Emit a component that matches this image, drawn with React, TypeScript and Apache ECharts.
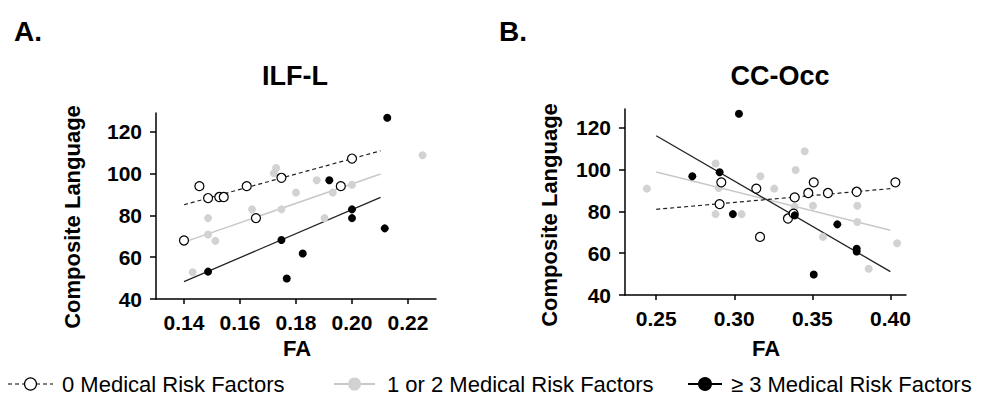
import React, { useEffect, useRef } from "react";
import * as echarts from "echarts";

// ---------- Data (FA, Composite Language) ----------
// Panel A: ILF-L
const ilfNone: number[][] = [
  [0.14, 68], [0.1455, 94], [0.1486, 88.3], [0.1526, 88.8], [0.1542, 88.8],
  [0.1624, 94], [0.1657, 78.7], [0.1748, 98], [0.196, 94], [0.2, 107.2],
];
const ilfOneTwo: number[][] = [
  [0.1431, 52.8], [0.1486, 78.7], [0.1486, 70.9], [0.1512, 67.8], [0.1643, 82.9],
  [0.1729, 102.7], [0.1721, 100.2], [0.1748, 82.9], [0.18, 90.9], [0.1874, 96.8],
  [0.1902, 78.7], [0.1931, 90.9], [0.2, 94.7], [0.2252, 108.8],
];
const ilfThree: number[][] = [
  [0.1486, 53.1], [0.1748, 68.2], [0.1767, 49.8], [0.1824, 61.8], [0.1919, 96.8],
  [0.2, 82.9], [0.2, 78.7], [0.2117, 73.8], [0.2126, 126.7],
];
const ilfNoneFit: number[][] = [[0.14, 85.1], [0.2102, 110.9]];
const ilfOneTwoFit: number[][] = [[0.14, 67.2], [0.2102, 99.8]];
const ilfThreeFit: number[][] = [[0.14, 48.3], [0.2102, 88.6]];

// Panel B: CC-Occ
const ccNone: number[][] = [
  [0.2906, 83.5], [0.2917, 93.9], [0.3141, 90.9], [0.3165, 67.8], [0.3344, 76.6],
  [0.338, 78.9], [0.3387, 86.7], [0.3474, 88.8], [0.3509, 93.9], [0.36, 88.8],
  [0.3784, 89.4], [0.4032, 93.9],
];
const ccOneTwo: number[][] = [
  [0.244, 90.9], [0.288, 102.9], [0.29, 91.2], [0.288, 78.7], [0.3047, 78.7],
  [0.3167, 96.8], [0.3256, 90.9], [0.3393, 99.8], [0.3387, 82.2], [0.3451, 108.8],
  [0.3504, 82.7], [0.3568, 67.8], [0.3788, 82.7], [0.3788, 74.9], [0.3861, 52.6],
  [0.4043, 64.8],
];
const ccThree: number[][] = [
  [0.2731, 96.8], [0.2906, 98.7], [0.2991, 78.7], [0.303, 126.7], [0.3387, 78.1],
  [0.3509, 49.8], [0.366, 73.8], [0.3784, 62.1], [0.3784, 60.8],
];
const ccNoneFit: number[][] = [[0.25, 81.0], [0.4, 90.9]];
const ccOneTwoFit: number[][] = [[0.25, 98.9], [0.4, 71.0]];
const ccThreeFit: number[][] = [[0.25, 116.2], [0.4, 51.2]];

// Tick labels
const ilfXTicks = [0.14, 0.16, 0.18, 0.2, 0.22];
const ccXTicks = [0.25, 0.3, 0.35, 0.4];
const yTicks = [40, 60, 80, 100, 120];

const panelTitles = ["ILF-L", "CC-Occ"];
const panelLetters = ["A.", "B."];
const legendNames = ["0 Medical Risk Factors", "1 or 2 Medical Risk Factors", "\u2265 3 Medical Risk Factors"];

const FONT = '"Liberation Sans", Arial, Helvetica, sans-serif';
const GRAY = "#d2d2d2";
const GRAY_LINE = "#c8c8c8";

export default function App() {
  const ref = useRef<HTMLDivElement>(null);

  useEffect(() => {
    if (!ref.current) return;
    const chart = echarts.init(ref.current, null, { renderer: "svg" });

    const axisLine = { show: true, onZero: false, lineStyle: { color: "#000", width: 1.5 } };
    const labelStyle = { fontSize: 21, fontWeight: "bold" as const, color: "#000", fontFamily: FONT };

    const mkX = (gridIndex: number, min: number, max: number, ticks: number[]) => ({
      type: "value",
      gridIndex,
      min,
      max,
      axisLine,
      axisTick: { show: true, length: 5, customValues: ticks, lineStyle: { color: "#000", width: 1.5 } },
      axisLabel: { ...labelStyle, margin: 13, customValues: ticks, formatter: (v: number) => v.toFixed(2) },
      splitLine: { show: false },
    });
    const mkY = (gridIndex: number) => ({
      type: "value",
      gridIndex,
      min: 40,
      max: 129,
      axisLine,
      axisTick: { show: true, length: 6, customValues: yTicks, lineStyle: { color: "#000", width: 1.5 } },
      axisLabel: { ...labelStyle, margin: 14, customValues: yTicks },
      splitLine: { show: false },
    });

    const fit = (idx: number, data: number[][], color: string, dashed: boolean, width: number) => ({
      type: "line",
      xAxisIndex: idx,
      yAxisIndex: idx,
      data,
      showSymbol: false,
      symbol: "none",
      silent: true,
      z: 1,
      lineStyle: { color, width, type: dashed ? [4, 3] : "solid" },
    });
    const pts = (idx: number, data: number[][], kind: number) => ({
      type: "scatter",
      xAxisIndex: idx,
      yAxisIndex: idx,
      data,
      symbolSize: kind === 0 ? 9 : 8,
      z: kind === 1 ? 2 : kind === 0 ? 3 : 4,
      itemStyle:
        kind === 0
          ? { color: "#fff", borderColor: "#000", borderWidth: 1.2, opacity: 1 }
          : kind === 1
          ? { color: GRAY, opacity: 1 }
          : { color: "#000", opacity: 1 },
    });

    const txt = (x: number, y: number, text: string, font: string, extra: any = {}) => ({
      type: "text",
      x,
      y,
      ...extra,
      style: { text, font, fill: "#000", textAlign: "left", textVerticalAlign: "middle", ...(extra.style || {}) },
    });

    const letterFont = `bold 28px ${FONT}`;
    const boldTitle = `bold 27px ${FONT}`;
    const axisName = `bold 22px ${FONT}`;
    const legendFont = `22px ${FONT}`;
    const LY = 384;

    const option: any = {
      animation: false,
      backgroundColor: "#fff",
      grid: [
        { left: 156, top: 113, width: 280, height: 186 },
        { left: 625, top: 109, width: 281, height: 186 },
      ],
      xAxis: [mkX(0, 0.13, 0.23, ilfXTicks), mkX(1, 0.23, 0.41, ccXTicks)],
      yAxis: [mkY(0), mkY(1)],
      series: [
        fit(0, ilfOneTwoFit, GRAY_LINE, false, 1.5),
        fit(0, ilfNoneFit, "#222", true, 1.2),
        fit(0, ilfThreeFit, "#222", false, 1.3),
        pts(0, ilfOneTwo, 1),
        pts(0, ilfNone, 0),
        pts(0, ilfThree, 2),
        fit(1, ccOneTwoFit, GRAY_LINE, false, 1.5),
        fit(1, ccNoneFit, "#222", true, 1.2),
        fit(1, ccThreeFit, "#222", false, 1.3),
        pts(1, ccOneTwo, 1),
        pts(1, ccNone, 0),
        pts(1, ccThree, 2),
      ],
      graphic: [
        txt(14, 31, panelLetters[0], letterFont),
        txt(499, 31, panelLetters[1], letterFont),
        txt(295, 76, panelTitles[0], boldTitle, { style: { textAlign: "center" } }),
        txt(780, 76, panelTitles[1], boldTitle, { style: { textAlign: "center" } }),
        txt(297, 348, "FA", axisName, { style: { textAlign: "center" } }),
        txt(766, 348, "FA", axisName, { style: { textAlign: "center" } }),
        txt(72, 217, "Composite Language", axisName, { rotation: Math.PI / 2, style: { textAlign: "center" } }),
        txt(549, 215, "Composite Language", axisName, { rotation: Math.PI / 2, style: { textAlign: "center" } }),
        // legend
        { type: "line", shape: { x1: 8, y1: LY, x2: 53, y2: LY }, style: { stroke: "#000", lineWidth: 1.2, lineDash: [4, 3] } },
        { type: "circle", shape: { cx: 30.5, cy: LY, r: 6 }, style: { fill: "#fff", stroke: "#000", lineWidth: 1.2 } },
        txt(62, LY, legendNames[0], legendFont),
        { type: "line", shape: { x1: 334, y1: LY, x2: 375, y2: LY }, style: { stroke: GRAY_LINE, lineWidth: 2 } },
        { type: "circle", shape: { cx: 354.5, cy: LY, r: 6.5 }, style: { fill: GRAY } },
        txt(387, LY, legendNames[1], legendFont),
        { type: "line", shape: { x1: 688, y1: LY, x2: 722, y2: LY }, style: { stroke: "#000", lineWidth: 2 } },
        { type: "circle", shape: { cx: 705, cy: LY, r: 7 }, style: { fill: "#000" } },
        txt(731, LY, legendNames[2], legendFont),
      ],
    };

    chart.setOption(option);
    return () => chart.dispose();
  }, []);

  return (
    <div
      ref={ref}
      style={{ position: "fixed", left: 0, top: 0, width: 993, height: 397, background: "#fff" }}
    />
  );
}
